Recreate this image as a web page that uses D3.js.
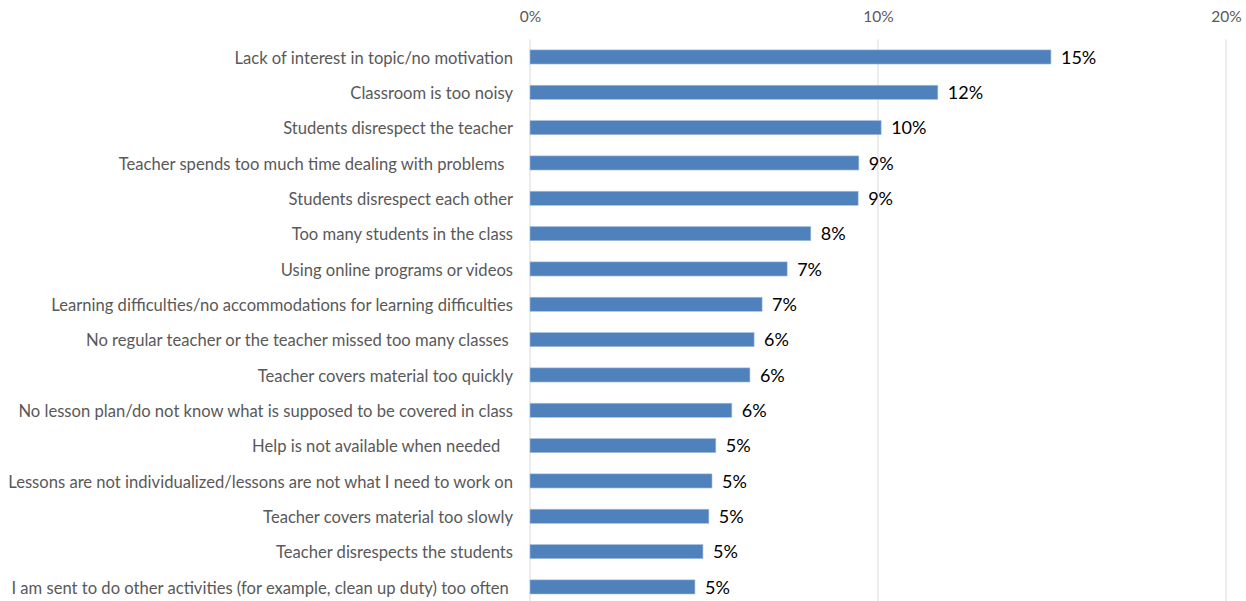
<!DOCTYPE html>
<html>
<head>
<meta charset="utf-8">
<script src="https://cdn.jsdelivr.net/npm/d3@7"></script>
<style>
  body { margin: 0; background: #fff; }
  text { font-family: Lato, "Open Sans", sans-serif; }
</style>
</head>
<body>
<svg id="chart" width="1246" height="601"></svg>
<script>
// DATA ------------------------------------------------------------------------
const categories = [
  "Lack of interest in topic/no motivation",
  "Classroom is too noisy",
  "Students disrespect the teacher",
  "Teacher spends too much time dealing with problems  ",
  "Students disrespect each other",
  "Too many students in the class",
  "Using online programs or videos",
  "Learning difficulties/no accommodations for learning difficulties",
  "No regular teacher or the teacher missed too many classes ",
  "Teacher covers material too quickly",
  "No lesson plan/do not know what is supposed to be covered in class",
  "Help is not available when needed   ",
  "Lessons are not individualized/lessons are not what I need to work on",
  "Teacher covers material too slowly",
  "Teacher disrespects the students",
  "I am sent to do other activities (for example, clean up duty) too often "
];
const values = [14.97, 11.72, 10.09, 9.45, 9.43, 8.07, 7.39, 6.67, 6.44, 6.32, 5.80, 5.34, 5.23, 5.14, 4.97, 4.74];
const ticks = [0, 10, 20];

// SETUP -----------------------------------------------------------------------
const svg = d3.select("#chart");
const margin = { top: 39.3, left: 530 };
const plotWidth = 696;
const plotHeight = 565.3;

const x = d3.scaleLinear().domain([0, 20]).range([0, plotWidth]);
const y = d3.scaleBand().domain(categories).range([0, plotHeight]).paddingInner(0.6).paddingOuter(0.3);

const g = svg.append("g").attr("transform", `translate(${margin.left},${margin.top})`);

// top tick labels
const xAxis = d3.axisTop(x).tickValues(ticks).tickFormat(d => d + "%").tickSize(0).tickPadding(0);
const ax = svg.append("g")
  .attr("transform", `translate(${margin.left},22)`)
  .call(xAxis);
ax.select(".domain").remove();
ax.selectAll("text")
  .attr("fill", "#595959")
  .style("font-size", "15.5px");

// gridlines
g.selectAll(".grid")
  .data(ticks)
  .enter()
  .append("line")
  .attr("class", "grid")
  .attr("x1", d => x(d))
  .attr("x2", d => x(d))
  .attr("y1", 0)
  .attr("y2", 620)
  .attr("stroke", "#d9d9d9")
  .attr("stroke-width", 1);

// category labels
const yAxis = d3.axisLeft(y).tickSize(0).tickPadding(17);
const ay = g.append("g").call(yAxis);
ay.select(".domain").remove();
ay.selectAll("text")
  .attr("fill", "#595959")
  .attr("dy", "0.4em")
  .style("font-size", "16.6px")
  .style("white-space", "pre");

// bars
g.selectAll(".bar")
  .data(values)
  .enter()
  .append("rect")
  .attr("class", "bar")
  .attr("x", 0)
  .attr("y", (d, i) => y(categories[i]))
  .attr("width", d => x(d))
  .attr("height", y.bandwidth())
  .attr("fill", "#4f81bd")
  .attr("stroke", "#a7c0de")
  .attr("stroke-width", 0.6);

// value labels
g.selectAll(".val")
  .data(values)
  .enter()
  .append("text")
  .attr("class", "val")
  .attr("x", d => x(d) + 10)
  .attr("y", (d, i) => y(categories[i]) + y.bandwidth() / 2)
  .attr("dy", "0.38em")
  .attr("fill", "#000")
  .style("font-size", "18px")
  .text(d => Math.round(d) + "%");
</script>
</body>
</html>
